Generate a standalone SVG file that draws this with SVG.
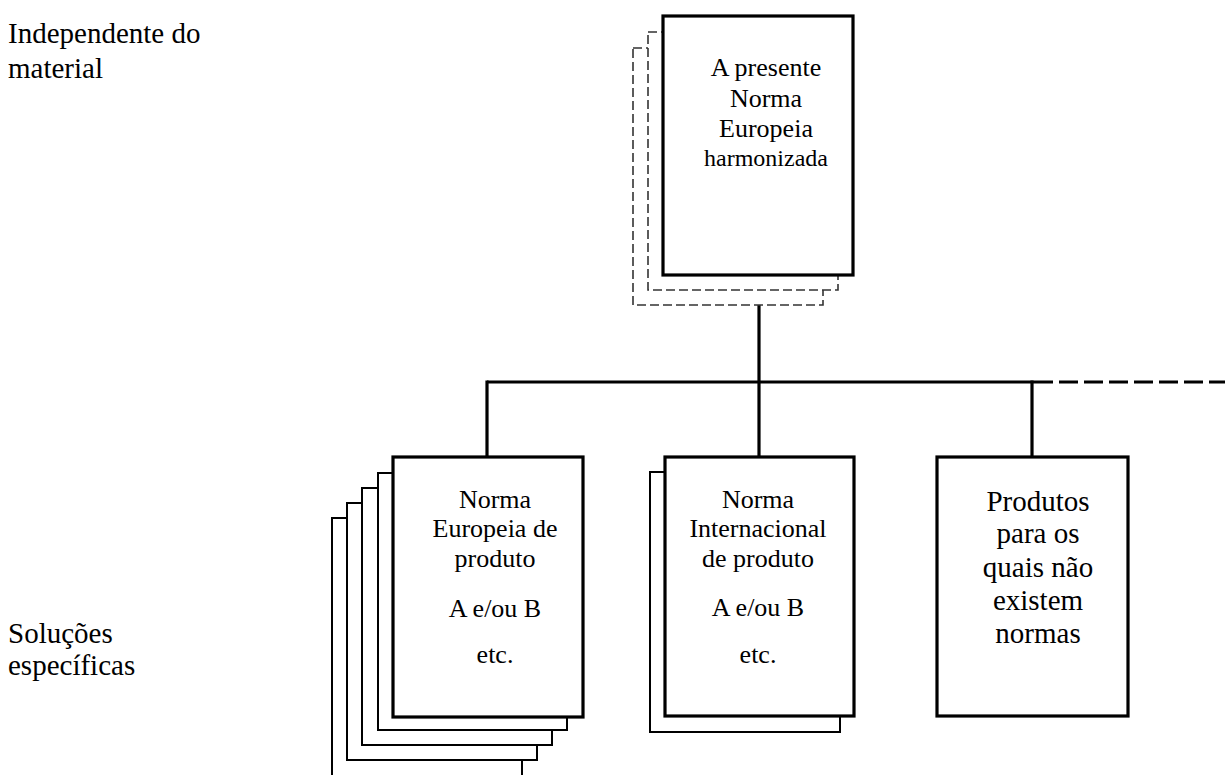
<svg xmlns="http://www.w3.org/2000/svg" width="1225" height="775" viewBox="0 0 1225 775">
<style>
text{font-family:"Liberation Serif","Times New Roman",serif;font-size:26px;fill:#000}
.c{text-anchor:middle}
.big{font-size:29px}
.main{fill:#fff;stroke:#000;stroke-width:3.2}
.back{fill:#fff;stroke:#000;stroke-width:2}
.dash{fill:#fff;stroke:#333;stroke-width:1.6;stroke-dasharray:9 4}
.ln{fill:none;stroke:#000;stroke-width:3.2}
</style>
<rect width="1225" height="775" fill="#fff"/>
<g id="labels">
<text class="big" x="8" y="43">Independente do</text>
<text class="big" x="8" y="78">material</text>
<text class="big" x="8" y="643">Soluções</text>
<text class="big" x="8" y="675">específicas</text>
</g>
<g id="connectors">
<line class="ln" x1="759" y1="275" x2="759" y2="457"/>
<line class="ln" x1="487" y1="382" x2="1034" y2="382"/>
<line class="ln" x1="1034" y1="382" x2="1225" y2="382" stroke-dasharray="19 6"/>
<line class="ln" x1="487" y1="380.5" x2="487" y2="457"/>
<line class="ln" x1="1032" y1="380.5" x2="1032" y2="457"/>
</g>
<g id="top">
<rect class="dash" x="633" y="48" width="190" height="257"/>
<rect class="dash" x="648" y="32" width="190" height="258"/>
<rect class="main" x="663" y="16" width="190" height="259"/>
<text class="c" x="766" y="76">A presente</text>
<text class="c" x="766" y="107">Norma</text>
<text class="c" x="766" y="137">Europeia</text>
<text class="c" x="766" y="166" style="font-size:24px">harmonizada</text>
</g>
<g id="left">
<rect class="back" x="332" y="518" width="190" height="280"/>
<rect class="back" x="347" y="503" width="190" height="257"/>
<rect class="back" x="362" y="488" width="190" height="257"/>
<rect class="back" x="378" y="473" width="189" height="257"/>
<rect class="main" x="393" y="457" width="190" height="260"/>
<text class="c" x="495" y="508">Norma</text>
<text class="c" x="495" y="537">Europeia de</text>
<text class="c" x="495" y="567">produto</text>
<text class="c" x="495" y="617">A e/ou B</text>
<text class="c" x="495" y="663">etc.</text>
</g>
<g id="middle">
<rect class="back" x="650" y="472" width="190" height="260"/>
<rect class="main" x="665" y="457" width="189" height="259"/>
<text class="c" x="758" y="508">Norma</text>
<text class="c" x="758" y="537">Internacional</text>
<text class="c" x="758" y="567">de produto</text>
<text class="c" x="758" y="616">A e/ou B</text>
<text class="c" x="758" y="663">etc.</text>
</g>
<g id="right">
<rect class="main" x="937" y="457" width="191" height="259"/>
<text class="c big" x="1038" y="511">Produtos</text>
<text class="c big" x="1038" y="543">para os</text>
<text class="c big" x="1038" y="577">quais não</text>
<text class="c big" x="1038" y="610">existem</text>
<text class="c big" x="1038" y="643">normas</text>
</g>
</svg>
